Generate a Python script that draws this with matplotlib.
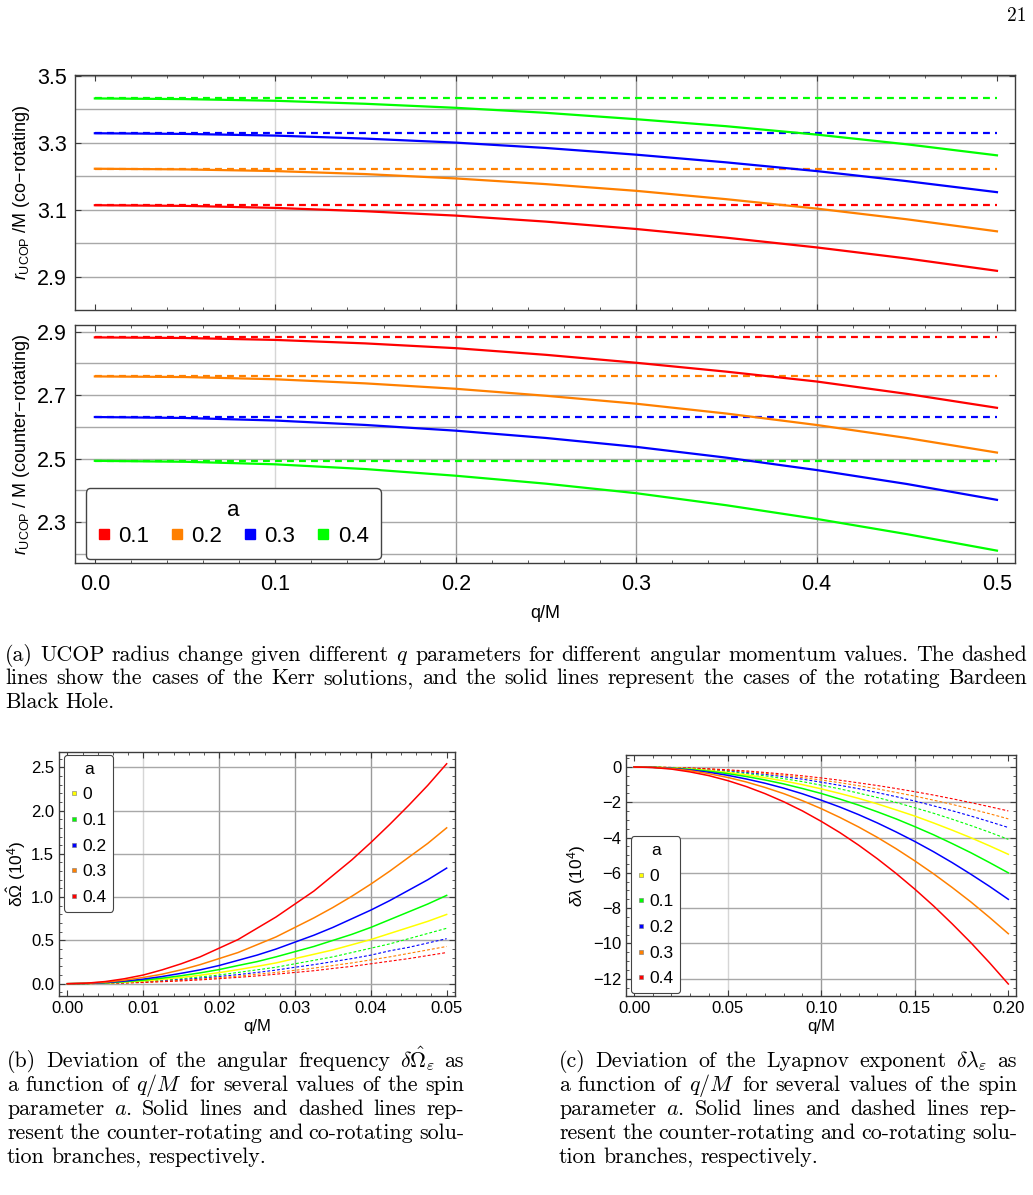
import matplotlib
matplotlib.use('Agg')
import matplotlib.pyplot as plt
from matplotlib.lines import Line2D
from matplotlib.ticker import MultipleLocator, FormatStrFormatter

W, H = 1033, 1195

plt.rcParams['font.family'] = ['Liberation Sans', 'DejaVu Sans']
plt.rcParams['mathtext.fontset'] = 'custom'
plt.rcParams['mathtext.rm'] = 'Liberation Sans'
plt.rcParams['mathtext.it'] = 'Liberation Sans:italic'
plt.rcParams['mathtext.bf'] = 'Liberation Sans:bold'
plt.rcParams['axes.unicode_minus'] = True

RED, ORANGE, BLUE, GREEN, YELLOW = '#ff0000', '#ff8000', '#0000ff', '#00ff00', '#ffff00'

# ---------------- (a) UCOP radius vs q/M ----------------
q_a = [0.00, 0.05, 0.10, 0.15, 0.20, 0.25, 0.30, 0.35, 0.40, 0.45, 0.50]
spins_a = ['0.1', '0.2', '0.3', '0.4']
colors_a = [RED, ORANGE, BLUE, GREEN]

# Kerr (dashed, constant in q)
kerr_co = [3.113, 3.222, 3.328, 3.432]
kerr_counter = [2.882, 2.759, 2.631, 2.493]

# rotating Bardeen, co-rotating
co_a01 = [3.113, 3.111, 3.105, 3.095, 3.082, 3.064, 3.042, 3.016, 2.987, 2.954, 2.917]
co_a02 = [3.222, 3.220, 3.215, 3.206, 3.193, 3.176, 3.156, 3.131, 3.103, 3.071, 3.035]
co_a03 = [3.328, 3.326, 3.321, 3.312, 3.300, 3.284, 3.264, 3.241, 3.215, 3.185, 3.152]
co_a04 = [3.432, 3.430, 3.425, 3.416, 3.404, 3.389, 3.370, 3.349, 3.324, 3.295, 3.262]

# rotating Bardeen, counter-rotating
cn_a01 = [2.882, 2.880, 2.874, 2.863, 2.848, 2.827, 2.802, 2.774, 2.743, 2.704, 2.660]
cn_a02 = [2.759, 2.757, 2.750, 2.737, 2.720, 2.698, 2.673, 2.642, 2.606, 2.565, 2.519]
cn_a03 = [2.631, 2.628, 2.620, 2.606, 2.588, 2.565, 2.537, 2.503, 2.464, 2.420, 2.370]
cn_a04 = [2.493, 2.490, 2.482, 2.467, 2.446, 2.421, 2.391, 2.353, 2.310, 2.262, 2.210]

# ---------------- (b) delta Omega (1e4) ----------------
q_b = [0.0000, 0.0025, 0.0050, 0.0075, 0.0100, 0.0125, 0.0150, 0.0175, 0.0200, 0.0225, 0.0250,
       0.0275, 0.0300, 0.0325, 0.0350, 0.0375, 0.0400, 0.0425, 0.0450, 0.0475, 0.0500]
spins_bc = ['0', '0.1', '0.2', '0.3', '0.4']
colors_bc = [YELLOW, GREEN, BLUE, ORANGE, RED]

# counter-rotating (solid)
om_cn_a0 = [0, 0.002, 0.008, 0.018, 0.032, 0.05, 0.072, 0.098, 0.128, 0.162, 0.20,
            0.24, 0.29, 0.34, 0.39, 0.45, 0.51, 0.58, 0.65, 0.72, 0.80]
om_cn_a01 = [0, 0.003, 0.010, 0.023, 0.041, 0.064, 0.092, 0.125, 0.163, 0.21, 0.255,
             0.31, 0.37, 0.43, 0.50, 0.57, 0.65, 0.74, 0.83, 0.92, 1.02]
om_cn_a02 = [0, 0.003, 0.013, 0.030, 0.053, 0.083, 0.12, 0.16, 0.21, 0.27, 0.33,
             0.40, 0.48, 0.56, 0.65, 0.75, 0.85, 0.96, 1.08, 1.20, 1.335]
om_cn_a03 = [0, 0.005, 0.018, 0.041, 0.072, 0.11, 0.16, 0.22, 0.29, 0.36, 0.45,
             0.54, 0.65, 0.76, 0.88, 1.01, 1.15, 1.30, 1.46, 1.62, 1.80]
om_cn_a04 = [0, 0.006, 0.025, 0.057, 0.10, 0.16, 0.23, 0.31, 0.41, 0.51, 0.64,
             0.77, 0.92, 1.07, 1.25, 1.43, 1.63, 1.84, 2.06, 2.29, 2.54]

# co-rotating (dashed)
om_co_a01 = [0, 0.002, 0.006, 0.014, 0.026, 0.04, 0.058, 0.078, 0.10, 0.13, 0.16,
             0.19, 0.23, 0.27, 0.31, 0.36, 0.41, 0.46, 0.52, 0.58, 0.64]
om_co_a02 = [0, 0.001, 0.005, 0.012, 0.021, 0.033, 0.047, 0.064, 0.083, 0.105, 0.13,
             0.157, 0.19, 0.22, 0.255, 0.29, 0.33, 0.38, 0.42, 0.47, 0.52]
om_co_a03 = [0, 0.001, 0.004, 0.010, 0.017, 0.027, 0.039, 0.053, 0.069, 0.087, 0.11,
             0.13, 0.155, 0.18, 0.21, 0.24, 0.275, 0.31, 0.35, 0.39, 0.43]
om_co_a04 = [0, 0.001, 0.004, 0.008, 0.014, 0.023, 0.032, 0.044, 0.058, 0.073, 0.09,
             0.11, 0.13, 0.15, 0.176, 0.20, 0.23, 0.26, 0.29, 0.325, 0.36]

# ---------------- (c) delta lambda (1e4) ----------------
q_c = [0.00, 0.01, 0.02, 0.03, 0.04, 0.05, 0.06, 0.07, 0.08, 0.09, 0.10,
       0.11, 0.12, 0.13, 0.14, 0.15, 0.16, 0.17, 0.18, 0.19, 0.20]

la_cn_a0 = [0, -0.012, -0.05, -0.11, -0.20, -0.31, -0.45, -0.61, -0.79, -1.00, -1.24,
            -1.50, -1.78, -2.09, -2.43, -2.78, -3.17, -3.58, -4.01, -4.47, -4.95]
la_cn_a01 = [0, -0.015, -0.06, -0.135, -0.24, -0.375, -0.54, -0.735, -0.96, -1.22, -1.50,
             -1.82, -2.16, -2.54, -2.94, -3.38, -3.84, -4.34, -4.86, -5.42, -6.00]
la_cn_a02 = [0, -0.02, -0.075, -0.17, -0.30, -0.47, -0.68, -0.92, -1.20, -1.52, -1.88,
             -2.27, -2.70, -3.17, -3.68, -4.22, -4.80, -5.42, -6.08, -6.77, -7.50]
la_cn_a03 = [0, -0.02, -0.09, -0.21, -0.38, -0.59, -0.85, -1.16, -1.51, -1.91, -2.36,
             -2.86, -3.40, -3.99, -4.63, -5.32, -6.05, -6.83, -7.65, -8.53, -9.45]
la_cn_a04 = [0, -0.03, -0.12, -0.28, -0.49, -0.77, -1.11, -1.51, -1.97, -2.49, -3.08,
             -3.72, -4.43, -5.20, -6.03, -6.92, -7.87, -8.89, -9.96, -11.10, -12.3]

la_co_a01 = [0, -0.01, -0.04, -0.09, -0.16, -0.26, -0.37, -0.50, -0.66, -0.83, -1.03,
             -1.24, -1.48, -1.73, -2.01, -2.31, -2.62, -2.96, -3.32, -3.70, -4.10]
la_co_a02 = [0, -0.009, -0.034, -0.077, -0.14, -0.21, -0.31, -0.42, -0.55, -0.69, -0.86,
             -1.04, -1.23, -1.45, -1.68, -1.93, -2.20, -2.48, -2.78, -3.10, -3.43]
la_co_a03 = [0, -0.007, -0.03, -0.066, -0.12, -0.18, -0.26, -0.36, -0.47, -0.60, -0.74,
             -0.89, -1.06, -1.24, -1.44, -1.65, -1.88, -2.12, -2.38, -2.65, -2.94]
la_co_a04 = [0, -0.006, -0.025, -0.056, -0.10, -0.16, -0.22, -0.31, -0.40, -0.50, -0.62,
             -0.75, -0.90, -1.05, -1.22, -1.40, -1.59, -1.80, -2.02, -2.25, -2.49]

fig = plt.figure(figsize=(W / 100, H / 100), dpi=100)


def px_axes(l, t, r, b):
    return fig.add_axes([l / W, 1 - b / H, (r - l) / W, (b - t) / H])


def frame(ax, size):
    for s in ax.spines.values():
        s.set_color('#3c3c3c')
        s.set_linewidth(1.0)
    ax.tick_params(which='both', direction='in', top=True, right=True,
                   color='#3c3c3c', labelsize=size)
    ax.tick_params(which='major', length=4, width=0.8)
    ax.tick_params(which='minor', length=2, width=0.6)


def grid(ax, xs, ys, light_x=()):
    for x in xs:
        ax.axvline(x, color='#d6d6d6' if x in light_x else '#9a9a9a', lw=1.0, zorder=0)
    for y in ys:
        ax.axhline(y, color='#a8a8a8', lw=1.0, zorder=0)


dash_a = (0, (3.1, 2.3))
dot_bc = (0, (2.6, 1.8))

# ---- (a) top: co-rotating, bottom: counter-rotating
ax1 = px_axes(75, 75, 1015, 310)
ax2 = px_axes(75, 325, 1015, 563)
for ax in (ax1, ax2):
    frame(ax, 15.5)
    ax.set_xlim(-0.011, 0.51)
    ax.xaxis.set_major_locator(MultipleLocator(0.1))
    ax.xaxis.set_minor_locator(MultipleLocator(0.02))
    ax.xaxis.set_major_formatter(FormatStrFormatter('%.1f'))
    ax.tick_params(axis='y', pad=6)
    ax.tick_params(axis='x', pad=8)

ax1.set_ylim(2.80, 3.502)
ax1.set_yticks([2.9, 3.1, 3.3, 3.5])
ax1.yaxis.set_major_formatter(FormatStrFormatter('%.1f'))
ax1.tick_params(labelbottom=False)
grid(ax1, [0.1, 0.2, 0.3, 0.4], [2.9, 3.0, 3.1, 3.2, 3.3, 3.4, 3.5], light_x=(0.1,))
for kv, vals, c in zip(kerr_co, [co_a01, co_a02, co_a03, co_a04], colors_a):
    ax1.hlines(kv, q_a[0], q_a[-1], colors=c, lw=1.6, linestyles=dash_a, zorder=2)
    ax1.plot(q_a, vals, color=c, lw=1.6, zorder=3)
ax1.set_ylabel(r'$r_{\mathrm{UCOP}}$ /M (co−rotating)', fontsize=13)
ax1.yaxis.set_label_coords(-0.046, 0.5)

ax2.set_ylim(2.171, 2.921)
ax2.set_yticks([2.3, 2.5, 2.7, 2.9])
ax2.yaxis.set_major_formatter(FormatStrFormatter('%.1f'))
grid(ax2, [0.1, 0.2, 0.3, 0.4], [2.2, 2.3, 2.4, 2.5, 2.6, 2.7, 2.8, 2.9], light_x=(0.1,))
for kv, vals, c in zip(kerr_counter, [cn_a01, cn_a02, cn_a03, cn_a04], colors_a):
    ax2.hlines(kv, q_a[0], q_a[-1], colors=c, lw=1.6, linestyles=dash_a, zorder=2)
    ax2.plot(q_a, vals, color=c, lw=1.6, zorder=3)
ax2.set_ylabel(r'$r_{\mathrm{UCOP}}$ / M (counter−rotating)', fontsize=13)
ax2.yaxis.set_label_coords(-0.046, 0.5)
ax2.set_xlabel('q/M', fontsize=13)
ax2.xaxis.set_label_coords(0.5, -0.175)

handles = [Line2D([], [], ls='none', marker='s', markersize=7, markerfacecolor=c,
                  markeredgecolor=c) for c in colors_a]
leg = ax2.legend(handles, spins_a, title='a', ncol=4, loc='lower left',
                 bbox_to_anchor=(0.0117, 0.017), borderaxespad=0, fontsize=16,
                 title_fontsize=16, fancybox=True, edgecolor='#444444', framealpha=1,
                 handlelength=0.5, handletextpad=0.4, columnspacing=1.0,
                 borderpad=0.55, labelspacing=0.2)
leg.get_frame().set_linewidth(1.0)
leg.set_zorder(5)

# ---- (b)
ax3 = px_axes(59, 752, 455, 996)
frame(ax3, 12)
ax3.set_xlim(-0.0011, 0.0511)
ax3.set_ylim(-0.142, 2.676)
ax3.xaxis.set_major_locator(MultipleLocator(0.01))
ax3.xaxis.set_minor_locator(MultipleLocator(0.002))
ax3.yaxis.set_major_locator(MultipleLocator(0.5))
ax3.yaxis.set_minor_locator(MultipleLocator(0.1))
ax3.xaxis.set_major_formatter(FormatStrFormatter('%.2f'))
ax3.yaxis.set_major_formatter(FormatStrFormatter('%.1f'))
grid(ax3, [0.01, 0.02, 0.03, 0.04], [0.0, 0.5, 1.0, 1.5, 2.0, 2.5], light_x=(0.01,))
for vals, c in zip([om_co_a01, om_co_a02, om_co_a03, om_co_a04], colors_bc[1:]):
    ax3.plot(q_b, vals, color=c, lw=0.8, ls=dot_bc, zorder=2)
for vals, c in zip([om_cn_a0, om_cn_a01, om_cn_a02, om_cn_a03, om_cn_a04], colors_bc):
    ax3.plot(q_b, vals, color=c, lw=1.1, zorder=3)
ax3.set_ylabel(r'δ$\hat{\Omega}$ (10$^4$)', fontsize=12.5)
ax3.yaxis.set_label_coords(-0.078, 0.5)
ax3.set_xlabel('q/M', fontsize=12)
ax3.xaxis.set_label_coords(0.5, -0.095)

# ---- (c)
ax4 = px_axes(626, 755, 1016, 996)
frame(ax4, 12)
ax4.set_xlim(-0.0043, 0.2041)
ax4.set_ylim(-12.98, 0.68)
ax4.xaxis.set_major_locator(MultipleLocator(0.05))
ax4.xaxis.set_minor_locator(MultipleLocator(0.01))
ax4.yaxis.set_major_locator(MultipleLocator(2))
ax4.yaxis.set_minor_locator(MultipleLocator(0.5))
ax4.xaxis.set_major_formatter(FormatStrFormatter('%.2f'))
grid(ax4, [0.05, 0.10, 0.15], [0, -2, -4, -6, -8, -10, -12], light_x=(0.05,))
for vals, c in zip([la_co_a01, la_co_a02, la_co_a03, la_co_a04], colors_bc[1:]):
    ax4.plot(q_c, vals, color=c, lw=0.8, ls=dot_bc, zorder=2)
for vals, c in zip([la_cn_a0, la_cn_a01, la_cn_a02, la_cn_a03, la_cn_a04], colors_bc):
    ax4.plot(q_c, vals, color=c, lw=1.1, zorder=3)
ax4.set_ylabel(r'$\delta\lambda$ (10$^4$)', fontsize=12.5)
ax4.yaxis.set_label_coords(-0.097, 0.5)
ax4.set_xlabel('q/M', fontsize=12)
ax4.xaxis.set_label_coords(0.5, -0.095)

small_handles = [Line2D([], [], ls='none', marker='s', markersize=3.5, markerfacecolor=c,
                        markeredgecolor='#777777', markeredgewidth=0.4) for c in colors_bc]
for ax, anchor, loc in ((ax3, (0.0126, 0.988), 'upper left'), (ax4, (0.0128, 0.012), 'lower left')):
    lg = ax.legend(small_handles, spins_bc, title='a', loc=loc, bbox_to_anchor=anchor,
                   borderaxespad=0, fontsize=12.5, title_fontsize=12.5, fancybox=True,
                   edgecolor='#444444', framealpha=1, handlelength=0.3, handletextpad=0.35,
                   borderpad=0.4, labelspacing=0.6)
    lg.get_frame().set_linewidth(0.8)
    lg.set_zorder(5)

# ---------------- captions (justified, Computer Modern) ----------------
rend = fig.canvas.get_renderer()
CAP = 15.8


def put_line(text, x0, x1, y, size=CAP, just=True):
    words = text.split(' ')
    arts = [fig.text(0, 0, w, fontsize=size, family='cmr10', math_fontfamily='cm',
                     va='baseline', ha='left') for w in words]
    widths = [a.get_window_extent(renderer=rend).width for a in arts]
    if just and len(words) > 1:
        gap = (x1 - x0 - sum(widths)) / (len(words) - 1)
    else:
        gap = size * 100 / 72 * 0.3
    x = x0
    for a, w in zip(arts, widths):
        a.set_position((x / W, 1 - y / H))
        x += w + gap


cap_a = ['(a) UCOP radius change given different $q$ parameters for different angular momentum values. The dashed',
         'lines show the cases of the Kerr solutions, and the solid lines represent the cases of the rotating Bardeen',
         'Black Hole.']
for i, line in enumerate(cap_a):
    put_line(line, 5, 1027, 661 + i * 23.5, just=i < len(cap_a) - 1)

cap_b = [r'(b) Deviation of the angular frequency $\delta\hat{\Omega}_\varepsilon$ as',
         'a function of $q/M$ for several values of the spin',
         'parameter $a$. Solid lines and dashed lines rep-',
         'resent the counter-rotating and co-rotating solu-',
         'tion branches, respectively.']
cap_c = [r'(c) Deviation of the Lyapnov exponent $\delta\lambda_\varepsilon$ as',
         'a function of $q/M$ for several values of the spin',
         'parameter $a$. Solid lines and dashed lines rep-',
         'resent the counter-rotating and co-rotating solu-',
         'tion branches, respectively.']
for i, line in enumerate(cap_b):
    put_line(line, 7, 464, 1067 + i * 24, just=i < len(cap_b) - 1)
for i, line in enumerate(cap_c):
    put_line(line, 559, 1017, 1067 + i * 24, just=i < len(cap_c) - 1)

fig.text(1026 / W, 1 - 21 / H, '21', family='cmr10', fontsize=14, ha='right', va='baseline')

fig.savefig('out.png', dpi=100)
